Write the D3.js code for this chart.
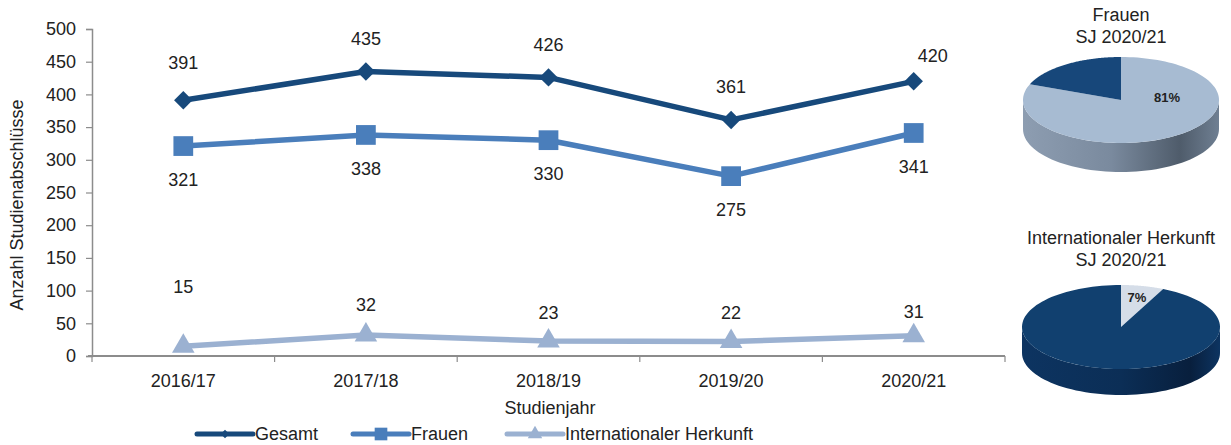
<!DOCTYPE html>
<html>
<head>
<meta charset="utf-8">
<script src="https://cdn.jsdelivr.net/npm/d3@7/dist/d3.min.js"></script>
<style>
  body { margin: 0; background: #fff; }
  svg { display: block; font-family: "Liberation Sans", Arial, sans-serif; }
</style>
</head>
<body>
<svg id="chart" width="1231" height="445"></svg>
<script>
// Academic years
const years = ["2016/17", "2017/18", "2018/19", "2019/20", "2020/21"];
// Degrees awarded per year
const gesamt = [391, 435, 426, 361, 420];
const frauen = [321, 338, 330, 275, 341];
const international = [15, 32, 23, 22, 31];
// Y axis ticks
const yTicks = [0, 50, 100, 150, 200, 250, 300, 350, 400, 450, 500];
// Shares for the 2020/21 pies (percent)
const frauenShare = [81, 19];          // women, men
const internationalShare = [7, 93];    // international, other

// label nudges (px) for points whose label sits off the default spot
const labelNudge = {
  gesamt: [[0, -5], [0, 0], [0, 0], [0, 0], [19, 7]],
  frauen: [[0, 0], [0, 0], [0, 0], [0, 0], [0, 0]],
  international: [[0, -29], [0, 0], [0, 2], [0, 1], [0, 6]]
};

const svg = d3.select("#chart");
const textColor = "#222";
const axisColor = "#8c8c8c";
const fontSize = "18px";

const margin = { left: 92, right: 1005, top: 29, bottom: 356 };
const x = d3.scaleBand().domain(years).range([margin.left, margin.right]);
const y = d3.scaleLinear().domain([0, 500]).range([margin.bottom, margin.top]);

// Y axis
const yAxis = svg.append("g").attr("transform", `translate(${margin.left},0)`)
  .call(d3.axisLeft(y).tickValues(yTicks).tickSize(6).tickPadding(10));
yAxis.select(".domain").attr("stroke", axisColor).attr("stroke-width", 1.5);
yAxis.selectAll(".tick line").attr("stroke", axisColor).attr("stroke-width", 1.2);
yAxis.selectAll(".tick text").attr("fill", textColor).style("font-size", fontSize)
  .style("font-family", "'Liberation Sans', Arial, sans-serif");

// X axis with ticks on band boundaries
const xAxisG = svg.append("g").attr("transform", `translate(0,${margin.bottom})`);
xAxisG.append("line").attr("x1", margin.left - 4).attr("x2", margin.right)
  .attr("stroke", axisColor).attr("stroke-width", 2.2);
const bounds = years.map(d => x(d)).concat([x(years[years.length - 1]) + x.bandwidth()]);
xAxisG.selectAll(".bt").data(bounds).join("line")
  .attr("x1", d => d).attr("x2", d => d).attr("y1", 0).attr("y2", 6)
  .attr("stroke", axisColor).attr("stroke-width", 1.2);
xAxisG.selectAll(".xl").data(years).join("text")
  .attr("x", d => x(d) + x.bandwidth() / 2).attr("y", 31)
  .attr("text-anchor", "middle").attr("fill", textColor).style("font-size", fontSize)
  .text(d => d);

// Axis titles
svg.append("text").attr("x", 550).attr("y", 414).attr("text-anchor", "middle")
  .attr("fill", textColor).style("font-size", fontSize).text("Studienjahr");
svg.append("text").attr("transform", "translate(23,205) rotate(-90)")
  .attr("text-anchor", "middle").attr("fill", textColor).style("font-size", fontSize)
  .text("Anzahl Studienabschlüsse");

const cx = d => x(d) + x.bandwidth() / 2;

const series = [
  { key: "gesamt", values: gesamt, color: "#17497b", marker: d3.symbolSquare, size: 170, rot: 45, dy: -33 },
  { key: "frauen", values: frauen, color: "#4a7ebb", marker: d3.symbolSquare, size: 390, rot: 0, dy: 34 },
  { key: "international", values: international, color: "#9bb1d1", marker: d3.symbolTriangle, size: 220, rot: 0, dy: -30 }
];

const line = d3.line().x(d => cx(d.year)).y(d => y(d.value));

series.forEach(s => {
  const pts = years.map((yr, i) => ({ year: yr, value: s.values[i], i }));
  const g = svg.append("g");
  g.append("path").datum(pts).attr("d", line).attr("fill", "none")
    .attr("stroke", s.color).attr("stroke-width", 5.5).attr("stroke-linejoin", "round");
  g.selectAll("path.m").data(pts).join("path").attr("class", "m")
    .attr("d", d3.symbol().type(s.marker).size(s.size))
    .attr("transform", d => `translate(${cx(d.year)},${y(d.value)}) rotate(${s.rot})`)
    .attr("fill", s.color);
  g.selectAll("text").data(pts).join("text")
    .attr("x", d => cx(d.year) + labelNudge[s.key][d.i][0])
    .attr("y", d => y(d.value) + s.dy + labelNudge[s.key][d.i][1])
    .attr("dy", "0.35em").attr("text-anchor", "middle")
    .attr("fill", textColor).style("font-size", fontSize)
    .text(d => d.value);
});

// Legend
const legend = [
  { label: "Gesamt", x0: 197, color: "#17497b", marker: d3.symbolSquare, size: 36, rot: 45 },
  { label: "Frauen", x0: 353, color: "#4a7ebb", marker: d3.symbolSquare, size: 160, rot: 0 },
  { label: "Internationaler Herkunft", x0: 507, color: "#9bb1d1", marker: d3.symbolTriangle, size: 90, rot: 0 }
];
const lg = svg.append("g");
legend.forEach(l => {
  const ly = 434;
  lg.append("line").attr("x1", l.x0).attr("x2", l.x0 + 56).attr("y1", ly).attr("y2", ly)
    .attr("stroke", l.color).attr("stroke-width", 5).attr("stroke-linecap", "round");
  lg.append("path").attr("d", d3.symbol().type(l.marker).size(l.size)())
    .attr("transform", `translate(${l.x0 + 28},${ly}) rotate(${l.rot})`).attr("fill", l.color);
  lg.append("text").attr("x", l.x0 + 58).attr("y", ly).attr("dy", "0.35em")
    .attr("fill", textColor).style("font-size", fontSize).text(l.label);
});

// 3D pies
const defs = svg.append("defs");
function sideGradient(id, stops) {
  const gr = defs.append("linearGradient").attr("id", id).attr("x1", 0).attr("x2", 1).attr("y1", 0).attr("y2", 0);
  stops.forEach(s => gr.append("stop").attr("offset", s[0]).attr("stop-color", s[1]));
}
sideGradient("sideLight", [[0, "#8d9db1"], [0.45, "#7a8a9e"], [0.8, "#4f5c6b"], [1, "#6f7f92"]]);
sideGradient("sideDark", [[0, "#0d3461"], [0.5, "#0b2e56"], [0.85, "#081f3d"], [1, "#0d3461"]]);

function pie3d(opts) {
  const { cx0, cy0, rx, ry, depth, shares, tops, sides, label, labelPos, title } = opts;
  const g = svg.append("g");
  const arcs = d3.pie().sort(null)(shares);
  const px = a => cx0 + rx * Math.sin(a);
  const py = a => cy0 - ry * Math.cos(a);
  // side walls (front half only: angles between PI/2 and 3PI/2)
  arcs.forEach((a, i) => {
    const s = Math.max(a.startAngle, Math.PI / 2);
    const e = Math.min(a.endAngle, 3 * Math.PI / 2);
    if (e <= s) return;
    const steps = d3.range(0, 61).map(k => s + (e - s) * k / 60);
    let d = "M" + steps.map(t => `${px(t)},${py(t)}`).join("L");
    d += "L" + steps.slice().reverse().map(t => `${px(t)},${py(t) + depth}`).join("L") + "Z";
    g.append("path").attr("d", d).attr("fill", sides[i]);
  });
  // top faces
  arcs.forEach((a, i) => {
    const steps = d3.range(0, 121).map(k => a.startAngle + (a.endAngle - a.startAngle) * k / 120);
    const d = `M${cx0},${cy0}L` + steps.map(t => `${px(t)},${py(t)}`).join("L") + "Z";
    g.append("path").attr("d", d).attr("fill", tops[i]);
  });
  g.append("text").attr("x", labelPos[0]).attr("y", labelPos[1]).attr("dy", "0.35em")
    .attr("text-anchor", "middle").attr("fill", "#222").style("font-size", "13px")
    .style("font-weight", "bold").text(label);
  title.forEach((t, k) => {
    g.append("text").attr("x", cx0).attr("y", opts.titleY + k * 22).attr("text-anchor", "middle")
      .attr("fill", textColor).style("font-size", fontSize).text(t);
  });
}

pie3d({
  cx0: 1121, cy0: 100, rx: 98, ry: 43, depth: 29,
  shares: frauenShare,
  tops: ["#a7bbd2", "#17477a"], sides: ["url(#sideLight)", "url(#sideDark)"],
  label: frauenShare[0] + "%", labelPos: [1167, 97],
  title: ["Frauen", "SJ 2020/21"], titleY: 21
});
pie3d({
  cx0: 1121, cy0: 327, rx: 99, ry: 42, depth: 26,
  shares: internationalShare,
  tops: ["#d5dde8", "#11406f"], sides: ["#b9c4d2", "url(#sideDark)"],
  label: internationalShare[0] + "%", labelPos: [1137, 297],
  title: ["Internationaler Herkunft", "SJ 2020/21"], titleY: 244
});
</script>
</body>
</html>
